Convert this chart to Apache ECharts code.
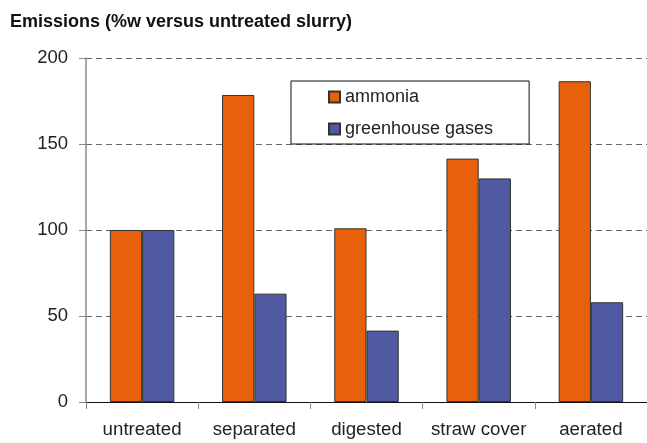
<!DOCTYPE html>
<html>
<head>
<meta charset="utf-8">
<script src="https://cdn.jsdelivr.net/npm/echarts@6/dist/echarts.min.js"></script>
<style>
  html, body { margin: 0; padding: 0; background: #fff; }
  #chart { width: 647px; height: 443px; }
</style>
</head>
<body>
<div id="chart"></div>
<script>
const categories = ["untreated", "separated", "digested", "straw cover", "aerated"];
const ammonia = [100, 178.5, 101, 141.5, 186.5];
const greenhouseGases = [100, 63, 41.5, 130, 58];
const yTicks = [0, 50, 100, 150, 200];

const font = "Liberation Sans, Arial, sans-serif";

const chart = echarts.init(document.getElementById("chart"));

const option = {
  backgroundColor: "#fff",
  animation: false,
  title: {
    text: "Emissions (%w versus untreated slurry)",
    left: 5,
    top: 8,
    textStyle: { fontFamily: font, fontSize: 18, fontWeight: "bold", color: "#111" },
  },
  legend: {
    left: 291,
    top: 81,
    orient: "vertical",
    icon: "rect",
    itemWidth: 11,
    itemHeight: 11,
    itemGap: 14,
    padding: [7, 36, 6, 37],
    borderColor: "#111",
    borderWidth: 1,
    backgroundColor: "#fff",
    textStyle: { fontFamily: font, fontSize: 18, color: "#222" },
    data: ["ammonia", "greenhouse gases"],
  },
  grid: { left: 86, right: -1, top: 58, bottom: 41 },
  xAxis: {
    type: "category",
    data: categories,
    axisLine: { lineStyle: { color: "#111", width: 1 } },
    axisTick: { show: true, interval: 0, length: 7, lineStyle: { color: "#888" } },
    axisLabel: { interval: 0, fontFamily: font, fontSize: 18.7, color: "#222", margin: 18 },
  },
  yAxis: {
    type: "value",
    min: yTicks[0],
    max: yTicks[yTicks.length - 1],
    interval: 50,
    axisLine: { show: true, lineStyle: { color: "#888", width: 1.5 } },
    axisTick: { show: true, length: 7, lineStyle: { color: "#888" } },
    axisLabel: { fontFamily: font, fontSize: 18.5, color: "#222", margin: 18 },
    splitLine: { lineStyle: { color: "#666", type: [6, 4], width: 1 } },
  },
  series: [
    {
      name: "ammonia",
      type: "bar",
      data: ammonia,
      barGap: "0%",
      barCategoryGap: "42.5%",
      itemStyle: { color: "#E8600A", borderColor: "#333", borderWidth: 1 },
      z: 3,
    },
    {
      name: "greenhouse gases",
      type: "bar",
      data: greenhouseGases,
      itemStyle: { color: "#5259A3", borderColor: "#333", borderWidth: 1 },
      z: 3,
    },
  ],
};

chart.setOption(option);
</script>
</body>
</html>
